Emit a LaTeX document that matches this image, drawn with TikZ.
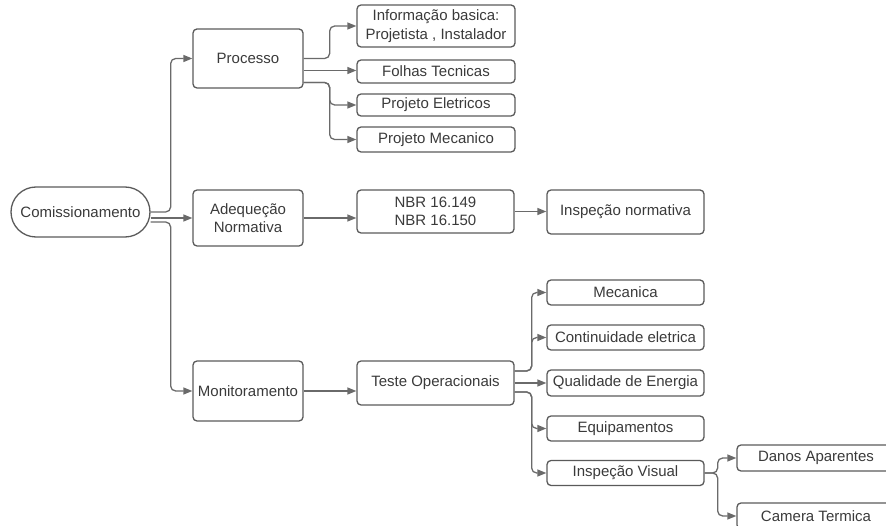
\documentclass[tikz,border=0pt]{standalone}
\usepackage{fontspec}
\setmainfont{Liberation Sans}
\usetikzlibrary{arrows.meta}
\definecolor{linegray}{HTML}{6A6A6A}
\definecolor{boxgray}{HTML}{5A5A5A}
\definecolor{textgray}{HTML}{3A3A3A}
\newcommand{\branch}[4] % from node, exit shift (pt), bus offset (px), to node
{
	\draw[conn] ([yshift=#2pt]#1.east) -- ++(#3,0) |- (#4.west);
}
\newcommand{\straight}[3] % from node, exit shift (pt), to node
{
	\draw[conn] ([yshift=#2pt]#1.east) -- ([yshift=#2pt]#1.east -| #3.west);
}
\begin{document}
\begin{tikzpicture}[x=1pt, y=-1pt,
	box/.style={draw=boxgray, line width=1.3pt, rounded corners=4pt, align=center, text=textgray, inner sep=0pt, font=\fontsize{15}{18.5}\selectfont},
	conn/.style={draw=linegray, line width=1.3pt, rounded corners=5pt, -{Triangle[length=9pt,width=7pt]}}]
	% canvas: 886 x 526 px, y downwards
	\useasboundingbox (0,0) rectangle (886,526);
	% root
	\node[box, rounded corners=25pt, minimum width=139, minimum height=50] (com) at (80.5,212) {Comissionamento};
	% first level
	\node[box, minimum width=110, minimum height=59] (proc) at (248,58.5) {Processo};
	\node[box, minimum width=110, minimum height=56] (adeq) at (248,218) {Adequeção\\Normativa};
	\node[box, minimum width=110, minimum height=60] (mon) at (248,391) {Monitoramento};
	% processo
	\node[box, minimum width=158, minimum height=42] (info) at (436,26) {Informação basica:\\Projetista , Instalador};
	\node[box, minimum width=158, minimum height=23] (folhas) at (436,71.5) {Folhas Tecnicas};
	\node[box, minimum width=158, minimum height=22] (elet) at (436,105) {Projeto Eletricos};
	\node[box, minimum width=158, minimum height=25] (mec) at (436,139.5) {Projeto Mecanico};
	% adequacao
	\node[box, minimum width=157, minimum height=43] (nbr) at (435.5,211.5) {NBR 16.149\\NBR 16.150};
	\node[box, minimum width=157, minimum height=44] (insn) at (625.5,212) {Inspeção normativa};
	% monitoramento
	\node[box, minimum width=157, minimum height=44] (teste) at (435.5,383) {Teste Operacionais};
	\node[box, minimum width=157, minimum height=25] (mecn) at (625.5,292.5) {Mecanica};
	\node[box, minimum width=157, minimum height=25] (cont) at (625.5,337.5) {Continuidade eletrica};
	\node[box, minimum width=157, minimum height=26] (qual) at (625.5,383) {Qualidade de Energia};
	\node[box, minimum width=157, minimum height=25] (equip) at (625.5,428.5) {Equipamentos};
	\node[box, minimum width=157, minimum height=25] (insv) at (625.5,473) {Inspeção Visual};
	\node[box, minimum width=158, minimum height=26] (danos) at (816,458) {Danos Aparentes};
	\node[box, minimum width=158, minimum height=26] (cam) at (816,516) {Camera Termica};

	\branch{com}{0}{20}{proc};
	\straight{com}{-6}{adeq};
	\branch{com}{-10}{20}{mon};

	\branch{proc}{0}{26}{info};
	\straight{proc}{-12}{folhas};
	\branch{proc}{-24}{26}{elet};
	\branch{proc}{-24}{26}{mec};

	\straight{adeq}{0}{nbr};
	\straight{nbr}{0}{insn};
	\straight{mon}{0}{teste};

	\branch{teste}{12}{17}{mecn};
	\branch{teste}{12}{17}{cont};
	\straight{teste}{0}{qual};
	\branch{teste}{-9}{17}{equip};
	\branch{teste}{-9}{17}{insv};

	\branch{insv}{0}{13}{danos};
	\branch{insv}{0}{13}{cam};
\end{tikzpicture}
\end{document}
